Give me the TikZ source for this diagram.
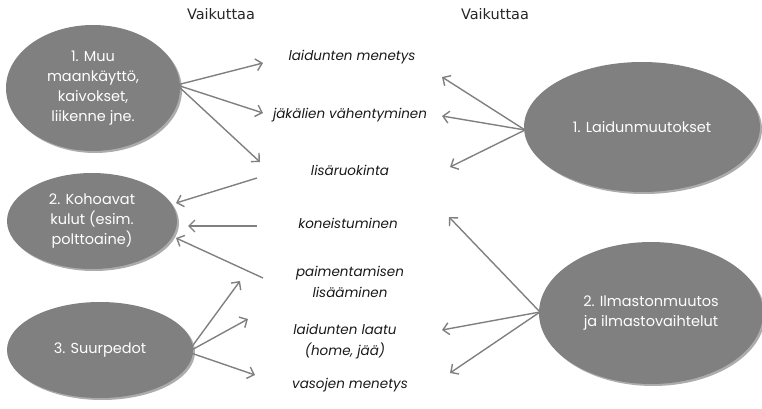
\documentclass[tikz,border=0pt]{standalone}
\usepackage{fontspec}
\setmainfont{Poppins}
\newfontfamily\vaifont{DejaVu Sans}
\usetikzlibrary{shapes.geometric,arrows.meta,shadows}
\definecolor{ellgray}{RGB}{128,128,128}
\definecolor{rimgray}{RGB}{172,172,172}
\definecolor{arrgray}{RGB}{128,128,128}
\begin{document}
\begin{tikzpicture}[x=1pt,y=-1pt,
 bubble/.style={ellipse, fill=ellgray, text=white, inner sep=0pt, align=center,
   font=\fontsize{14.5}{20}\selectfont,
   drop shadow={shadow xshift=2pt, shadow yshift=-2pt, fill=rimgray, opacity=1}},
 lbl/.style={align=center, font=\fontsize{13.5}{21}\selectfont\itshape, text=black!90, inner sep=0pt},
 hdr/.style={font=\vaifont\fontsize{14.5}{16}\selectfont, text=black!85, inner sep=0pt},
 arr/.style={draw=arrgray, line width=1.4pt, -{Straight Barb[length=6pt,width=12pt]}}
]
\useasboundingbox (0,0) rectangle (762,409);

% headers
\node[hdr] (h1) at (221,14) {Vaikuttaa};
\node[hdr] (h2) at (495,14) {Vaikuttaa};

% ellipses
\node[bubble, minimum width=174pt, minimum height=126pt] (e1) at (93,88) {1. Muu\\maankäyttö,\\kaivokset,\\liikenne jne.};
\node[bubble, minimum width=170pt, minimum height=96pt] (e2) at (92,221) {2. Kohoavat\\kulut (esim.\\polttoaine)};
\node[bubble, minimum width=186pt, minimum height=96pt] (e3) at (100,350) {3. Suurpedot};
\node[bubble, minimum width=236pt, minimum height=130pt] (r1) at (642,127) {1. Laidunmuutokset};
\node[bubble, minimum width=224pt, minimum height=142pt] (r2) at (651,313) {2. Ilmastonmuutos\\ja ilmastovaihtelut};

% labels
\node[lbl] (l1) at (352,57) {laidunten menetys};
\node[lbl] (l2) at (350,115) {jäkälien vähentyminen};
\node[lbl] (l3) at (350,170) {lisäruokinta};
\node[lbl] (l4) at (348,223) {koneistuminen};
\node[lbl] (l5) at (350,282) {paimentamisen\\lisääminen};
\node[lbl] (l6) at (345,342) {laidunten laatu\\(home, jää)};
\node[lbl] (l7) at (350,385) {vasojen menetys};

% arrow end coordinates
\coordinate (a1) at (263,63);
\coordinate (a2) at (263,113);
\coordinate (a3) at (260,162);
\coordinate (b1s) at (257,178);
\coordinate (b1) at (176,203);
\coordinate (b2s) at (257,226);
\coordinate (b2) at (188,226);
\coordinate (b3s) at (263,278);
\coordinate (b3) at (176,238);
\coordinate (c1) at (240,281);
\coordinate (c2) at (248,319);
\coordinate (c3) at (255,375);
\coordinate (d1) at (442,77);
\coordinate (d2) at (442,116);
\coordinate (d3) at (450,167);
\coordinate (f1) at (449,217);
\coordinate (f2) at (442,330);
\coordinate (f3) at (450,373);
\coordinate (e1o) at (177,85);
\coordinate (e3o) at (188,352);
\coordinate (r1o) at (525,130);
\coordinate (r2o) at (540,312);

% arrows
\draw[arr] (e1o) -- (a1);
\draw[arr] (e1o) -- (a2);
\draw[arr] (e1o) -- (a3);
\draw[arr] (b1s) -- (b1);
\draw[arr] (b2s) -- (b2);
\draw[arr] (b3s) -- (b3);
\draw[arr] (e3o) -- (c1);
\draw[arr] (e3o) -- (c2);
\draw[arr] (e3o) -- (c3);
\draw[arr] (r1o) -- (d1);
\draw[arr] (r1o) -- (d2);
\draw[arr] (r1o) -- (d3);
\draw[arr] (r2o) -- (f1);
\draw[arr] (r2o) -- (f2);
\draw[arr] (r2o) -- (f3);
\end{tikzpicture}
\end{document}
